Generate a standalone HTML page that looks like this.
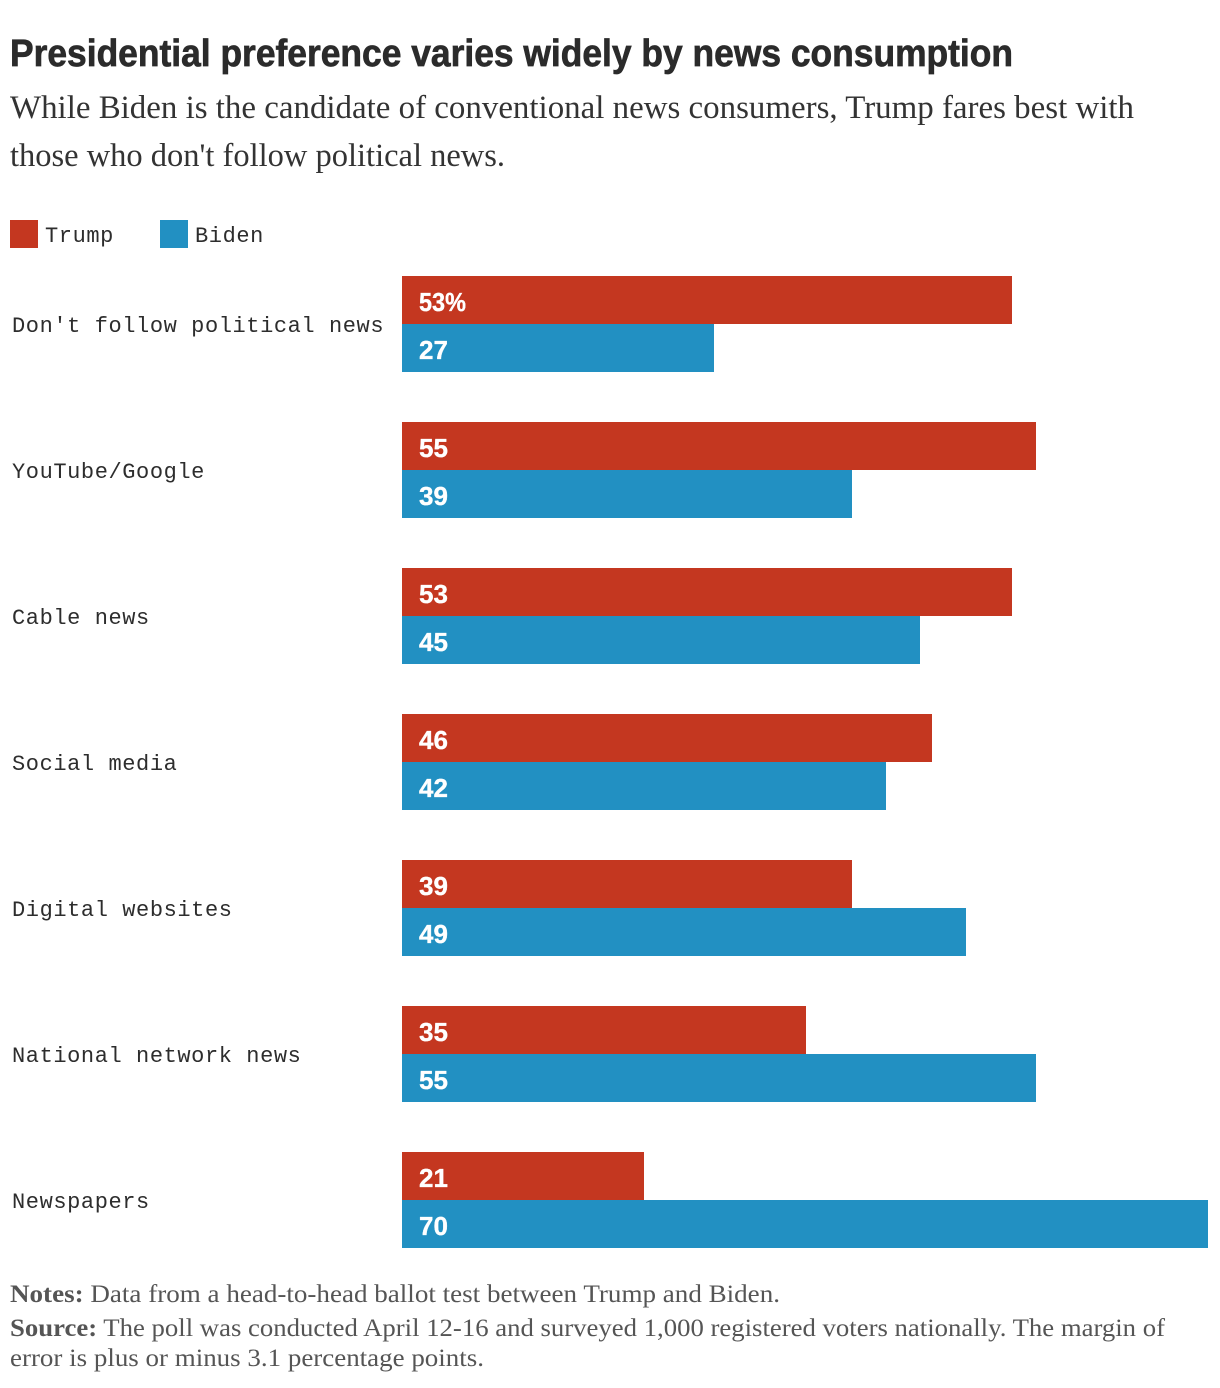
<!DOCTYPE html>
<html lang="en">
<head>
<meta charset="utf-8">
<title>Presidential preference varies widely by news consumption</title>
<style>
html,body{margin:0;padding:0;background:#fff;width:1220px;height:1388px;overflow:hidden}
svg{display:block}
.title{font:700 38px "Liberation Sans",sans-serif;fill:#2b2b2b;stroke:#2b2b2b;stroke-width:.7px}
.sub{font:400 33px "Liberation Serif",serif;fill:#333}
.mono{font:400 22px "Liberation Mono",monospace;fill:#2d2d2d;letter-spacing:.58px}
.val{font:700 26px "Liberation Sans",sans-serif;fill:#fff;stroke:#fff;stroke-width:.35px}
.foot{font:400 25px "Liberation Serif",serif;fill:#555}
</style>
</head>
<body>
<svg id="chart" xmlns="http://www.w3.org/2000/svg" width="1220" height="1388" viewBox="0 0 1220 1388">
  <text class="title" x="10" y="66" textLength="1003" lengthAdjust="spacingAndGlyphs">Presidential preference varies widely by news consumption</text>
  <text class="sub" x="10" y="118" textLength="1124" lengthAdjust="spacingAndGlyphs">While Biden is the candidate of conventional news consumers, Trump fares best with</text>
  <text class="sub" x="10" y="166" textLength="495" lengthAdjust="spacingAndGlyphs">those who don't follow political news.</text>
  <g>
    <rect x="10" y="220" width="28" height="28" fill="#c43720"/>
    <text class="mono" x="45" y="242">Trump</text>
    <rect x="160" y="220" width="28" height="28" fill="#2290c2"/>
    <text class="mono" x="195" y="242">Biden</text>
  </g>
  <g id="rows"></g>
  <text class="foot" x="10" y="1302" textLength="770" lengthAdjust="spacingAndGlyphs"><tspan font-weight="700">Notes:</tspan> Data from a head-to-head ballot test between Trump and Biden.</text>
  <text class="foot" x="10" y="1336" textLength="1155" lengthAdjust="spacingAndGlyphs"><tspan font-weight="700">Source:</tspan> The poll was conducted April 12-16 and surveyed 1,000 registered voters nationally. The margin of</text>
  <text class="foot" x="10" y="1366" textLength="474" lengthAdjust="spacingAndGlyphs">error is plus or minus 3.1 percentage points.</text>
</svg>
<script>
const categories = ["Don't follow political news", "YouTube/Google", "Cable news", "Social media", "Digital websites", "National network news", "Newspapers"];
const trumpValues = [53, 55, 53, 46, 39, 35, 21];
const bidenValues = [27, 39, 45, 42, 49, 55, 70];
const axisMax = 70;

const NS = 'http://www.w3.org/2000/svg';
const rows = document.getElementById('rows');
const x0 = 402, plotWidth = 806.4, top0 = 276, rowStep = 146, barH = 48;
const xScale = v => Math.round(v / axisMax * plotWidth / 2) * 2;
const rowY = i => top0 + i * rowStep;

function slug(s) {
  return s.toLowerCase().replace(/[^a-z0-9]+/g, '-').replace(/^-|-$/g, '');
}

function addBar(parent, key, cat, value, y, fill, suffix) {
  const rect = document.createElementNS(NS, 'rect');
  
  
  rect.setAttribute('x', x0);
  rect.setAttribute('y', y);
  rect.setAttribute('width', xScale(value));
  rect.setAttribute('height', barH);
  rect.setAttribute('fill', fill);
  parent.appendChild(rect);

  const t = document.createElementNS(NS, 'text');
  
  
  t.setAttribute('class', 'val');
  t.setAttribute('x', x0 + 17);
  t.setAttribute('y', y + 35);
  if (suffix) {
    t.setAttribute('textLength', 47);
    t.setAttribute('lengthAdjust', 'spacingAndGlyphs');
  }
  t.textContent = value + suffix;
  parent.appendChild(t);
}

categories.forEach(function (name, i) {
  const cat = slug(name);
  const g = document.createElementNS(NS, 'g');
  
  

  const label = document.createElementNS(NS, 'text');
  
  
  label.setAttribute('class', 'mono');
  label.setAttribute('x', 12);
  label.setAttribute('y', rowY(i) + 56);
  label.textContent = name;
  g.appendChild(label);

  addBar(g, 'trump', cat, trumpValues[i], rowY(i), '#c43720', i === 0 ? '%' : '');
  addBar(g, 'biden', cat, bidenValues[i], rowY(i) + barH, '#2290c2', '');
  rows.appendChild(g);
});
</script>
</body>
</html>
